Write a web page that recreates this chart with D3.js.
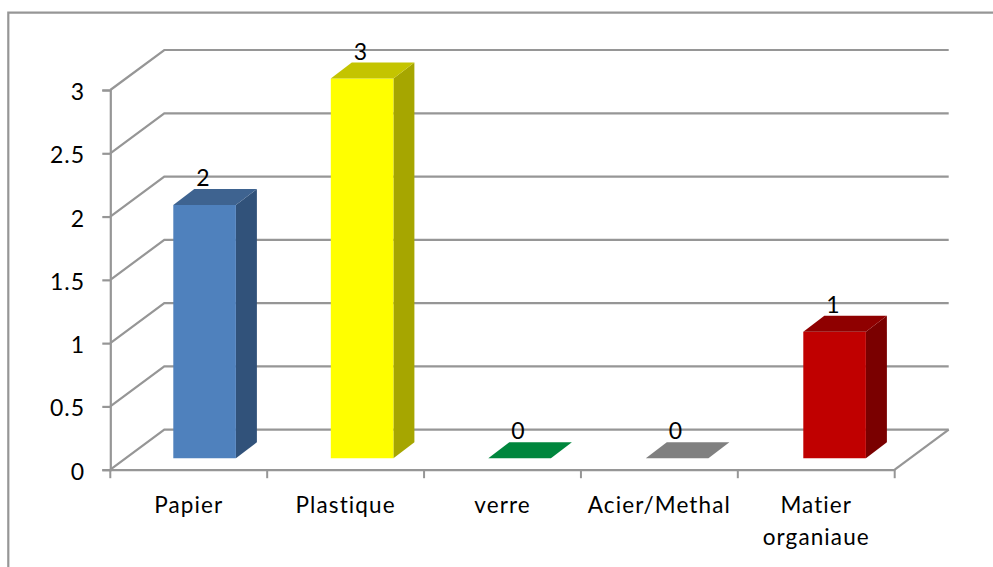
<!DOCTYPE html>
<html><head><meta charset="utf-8">
<style>html,body{margin:0;padding:0;background:#fff}svg{display:block}text{font-family:Lato,"Open Sans",sans-serif;fill:#000;letter-spacing:1.1px}</style>
<script src="https://cdn.jsdelivr.net/npm/d3@7/dist/d3.min.js"></script></head><body>
<script>
const categories=["Papier","Plastique","verre","Acier/Methal","Matier organiaue"];
const categoryLines=[["Papier"],["Plastique"],["verre"],["Acier/Methal"],["Matier","organiaue"]];
const values=[2,3,0,0,1];
const frontColors=["#4f81bd","#ffff00","#00863d","#808080","#c00000"];
const topColors=["#3e6390","#c4c400","#006b30","#666666","#8f0000"];
const sideColors=["#31527a","#a6a600","#005a28","#555555","#7a0000"];
const yTicks=[0,0.5,1,1.5,2,2.5,3];
const W=993,H=567,gray="#969696",fs=22.5;
const x=d3.scaleBand().domain(categories).range([110.3,894.7]);
const xBar=d3.scaleBand().domain(categories).range([110.3,897.8]);
const y=d3.scaleLinear().domain([0,3]).range([469.7,90]);
const depth=[54,-40], barDepth=[21,-16], barInsetY=11.5, barInset=63, barW=62.6;
const svg=d3.select("body").append("svg").attr("width",W).attr("height",H);
svg.append("path").attr("d",`M8.3,${H} V12.7 H${W}`).attr("fill","none").attr("stroke",gray).attr("stroke-width",2.2);
const line=d3.line();
const grid=svg.append("g").attr("fill","none").attr("stroke",gray).attr("stroke-width",2.2);
yTicks.forEach(t=>{
  grid.append("path").attr("d",line([[x.range()[0],y(t)],[x.range()[0]+depth[0],y(t)+depth[1]],[x.range()[1]+depth[0],y(t)+depth[1]]]));
});
grid.append("path").attr("d",line([[x.range()[1],y(0)],[x.range()[1]+depth[0],y(0)+depth[1]]]));
const yAxis=svg.append("g").attr("transform",`translate(${x.range()[0]},0)`)
  .call(d3.axisLeft(y).tickValues(yTicks).tickFormat(d3.format("~g")).tickSize(8).tickPadding(17));
const xAxis=svg.append("g").attr("transform",`translate(0,${y(0)})`)
  .call(d3.axisBottom(x).tickValues([]).tickSizeOuter(0));
[yAxis,xAxis].forEach(a=>{a.selectAll("path,line").attr("stroke",gray).attr("stroke-width",2.2)});
yAxis.selectAll("text").attr("font-size",fs+.5).attr("dy",null).attr("y",9.5).attr("fill","#000");
const edges=categories.map(c=>x(c)).concat(x.range()[1]);
svg.append("g").selectAll("line").data(edges).join("line")
  .attr("x1",d=>d).attr("x2",d=>d).attr("y1",y(0)).attr("y2",y(0)+8.5).attr("stroke",gray).attr("stroke-width",2);
const cat=svg.append("g").attr("text-anchor","middle").attr("font-size",fs);
categoryLines.forEach((ls,i)=>{
  const cx=x(categories[i])+x.bandwidth()/2;
  const t=cat.append("text").attr("y",513);
  ls.forEach((s,j)=>t.append("tspan").attr("x",cx).attr("dy",j?32:0).text(s));
});
const bars=svg.append("g").selectAll("g").data(values).join("g");
bars.each(function(v,i){
  const g=d3.select(this);
  const l=xBar(categories[i])+barInset, r=l+barW, b=y(0)-barInsetY, t=y(v)-barInsetY;
  const [dx,dy]=barDepth;
  if(v>0){
    g.append("path").attr("d",line([[r,b],[r+dx,b+dy],[r+dx,t+dy],[r,t]])+"Z").attr("fill",sideColors[i]);
    g.append("path").attr("d",line([[l,t],[r,t],[r,b],[l,b]])+"Z").attr("fill",frontColors[i]);
    g.append("path").attr("d",line([[l,t],[l+dx,t+dy],[r+dx,t+dy],[r,t]])+"Z").attr("fill",topColors[i]);
  } else {
    g.append("path").attr("d",line([[l,t],[l+dx,t+dy],[r+dx,t+dy],[r,t]])+"Z").attr("fill",frontColors[i]);
  }
  g.append("text").attr("x",l+barW/2-1).attr("y",t+dy-3).attr("text-anchor","middle").attr("font-size",fs+.5).text(v);
});
</script></body></html>
